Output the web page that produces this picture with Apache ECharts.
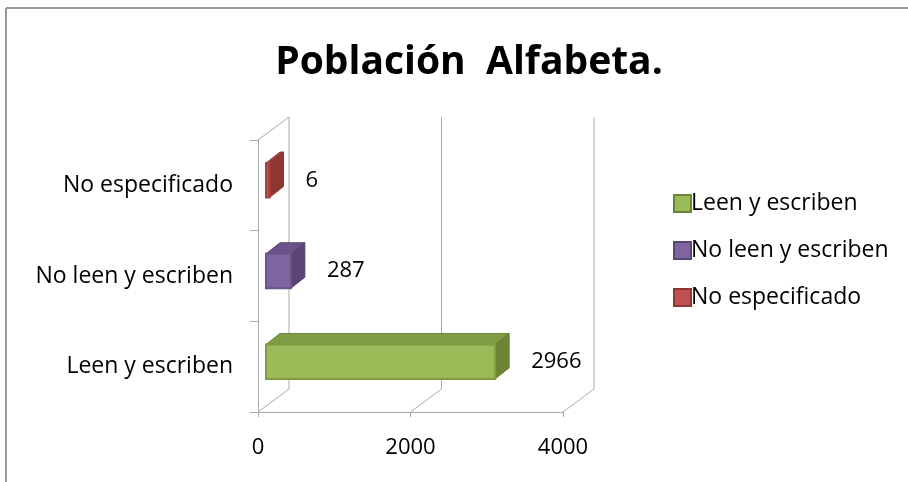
<!DOCTYPE html>
<html>
<head>
<meta charset="utf-8">
<script src="https://cdn.jsdelivr.net/npm/echarts@6/dist/echarts.min.js"></script>
<style>
  html, body { margin: 0; padding: 0; background: #fff; }
  #chart { width: 908px; height: 482px; }
</style>
</head>
<body>
<div id="chart"></div>
<script>
// data
const categories = ['Leen y escriben', 'No leen y escriben', 'No especificado']
const values = [2966, 287, 6]
const xTicks = [0, 2000, 4000]

// excel 2007 palette: front face, top face, side face
const frontColors = ['#9bbb59', '#8064a2', '#c0504d']
const topColors = ['#7f9c45', '#6a5389', '#a54340']
const sideColors = ['#6b8537', '#594475', '#8e3633']

const FONT = '"Open Sans", "Noto Sans", sans-serif'
const GRID_COLOR = '#a9a9a9'
// depth of the 3d box (back wall offset)
const DX = 31, DY = -23

const chart = echarts.init(document.getElementById('chart'))

const renderFrame = (params, api) => {
  const cs = params.coordSys
  const top = cs.y
  const bottom = cs.y + cs.height
  const x = api.coord([api.value(0), 0])[0]
  const line = (x1, y1, x2, y2) => ({
    type: 'line',
    shape: { x1, y1, x2, y2 },
    style: { stroke: GRID_COLOR, lineWidth: 1 }
  })
  const children = [
    line(x, bottom, x + DX, bottom + DY),
    line(x + DX, bottom + DY, x + DX, top + DY)
  ]
  if (api.value(0) === 0) children.push(line(x, top, x + DX, top + DY))
  return { type: 'group', children }
}

const renderBar = (params, api) => {
  const v = api.value(0)
  const ci = api.value(1)
  const origin = api.coord([0, ci])
  const end = api.coord([v, ci])
  const bandH = api.size([0, 1])[1]
  const h = bandH * 0.38
  const ox = 8, oy = -5, dx = 14, dy = -11
  const x0 = origin[0] + ox
  const x1 = Math.max(end[0] + ox + 3, x0 + 3)
  const yT = origin[1] + oy - h / 2
  return {
    type: 'group',
    children: [
      {
        type: 'polygon',
        shape: { points: [[x0, yT], [x1, yT], [x1 + dx, yT + dy], [x0 + dx, yT + dy]] },
        style: { fill: topColors[ci], stroke: sideColors[ci], lineWidth: 1 }
      },
      {
        type: 'polygon',
        shape: { points: [[x1, yT], [x1 + dx, yT + dy], [x1 + dx, yT + dy + h], [x1, yT + h]] },
        style: { fill: sideColors[ci], stroke: sideColors[ci], lineWidth: 1 }
      },
      {
        type: 'rect',
        shape: { x: x0, y: yT, width: x1 - x0, height: h },
        style: { fill: frontColors[ci], stroke: topColors[ci], lineWidth: 2 }
      },
      {
        type: 'text',
        x: x1 + dx + 22,
        y: yT + h / 2,
        style: {
          text: String(v),
          fill: '#000',
          font: '22px ' + FONT,
          verticalAlign: 'middle',
          align: 'left'
        }
      }
    ]
  }
}

const barSeries = categories.map((name, i) => ({
  name,
  type: 'custom',
  renderItem: renderBar,
  clip: false,
  z: 3,
  encode: { x: 0, y: 1 },
  itemStyle: { color: frontColors[i] },
  data: [[values[i], i]]
}))

const option = {
  animation: false,
  title: {
    text: 'Población  Alfabeta.',
    left: 464,
    top: 38,
    textAlign: 'center',
    textStyle: { fontFamily: FONT, fontSize: 39, fontWeight: 'bold', color: '#000' }
  },
  legend: {
    orient: 'vertical',
    left: 668,
    top: 187,
    itemGap: 24,
    itemWidth: 17,
    itemHeight: 17,
    icon: 'rect',
    textStyle: { fontFamily: FONT, fontSize: 23, color: '#000', padding: [0, 0, 0, -5] },
    data: categories.map((name, i) => ({
      name,
      itemStyle: { color: frontColors[i], borderColor: sideColors[i], borderWidth: 2 }
    }))
  },
  grid: { left: 258, top: 140, width: 305, height: 272 },
  xAxis: {
    type: 'value',
    min: 0,
    max: 4000,
    interval: 2000,
    axisLine: { show: true, lineStyle: { color: GRID_COLOR } },
    axisTick: { show: true, length: 5, lineStyle: { color: GRID_COLOR } },
    splitLine: { show: false },
    axisLabel: { margin: 25, color: '#000', fontFamily: FONT, fontSize: 22, formatter: v => String(v) }
  },
  yAxis: {
    type: 'category',
    data: categories,
    axisLine: { show: true, lineStyle: { color: GRID_COLOR } },
    axisTick: { show: true, length: 8, lineStyle: { color: GRID_COLOR } },
    axisLabel: { margin: 25, color: '#000', fontFamily: FONT, fontSize: 23 }
  },
  graphic: [
    { type: 'line', shape: { x1: 6, y1: 8, x2: 908, y2: 8 }, style: { stroke: '#9a9a9a', lineWidth: 2 } },
    { type: 'line', shape: { x1: 6, y1: 8, x2: 6, y2: 482 }, style: { stroke: '#9a9a9a', lineWidth: 2 } }
  ],
  series: [
    {
      name: 'frame',
      type: 'custom',
      renderItem: renderFrame,
      clip: false,
      silent: true,
      z: 1,
      encode: { x: 0, y: 1 },
      data: xTicks.map(t => [t, 0])
    },
    ...barSeries
  ]
}

chart.setOption(option)
</script>
</body>
</html>
